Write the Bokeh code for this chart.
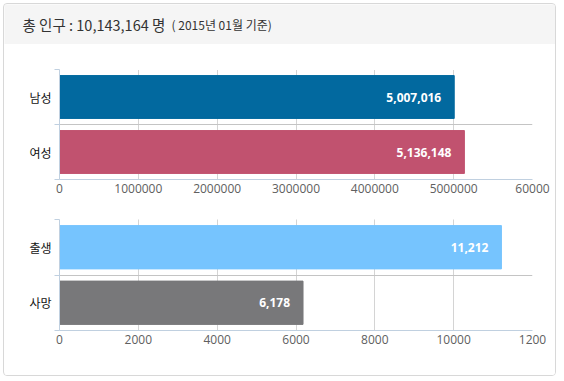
from bokeh.plotting import figure
from bokeh.layouts import column
from bokeh.models import FixedTicker, Range1d, Label, ColumnDataSource
from bokeh.embed import file_html
from bokeh.resources import INLINE
from bokeh.core.properties import value

# ---- data ----
title_main = "총 인구 : 10,143,164 명"
title_sub = "( 2015년 01월 기준)"

pop_cats = ["남성", "여성"]
pop_vals = [5007016, 5136148]
pop_colors = ["#02699f", "#c1526f"]
pop_ticks = [0, 1000000, 2000000, 3000000, 4000000, 5000000, 6000000]
pop_tick_labels = ["0", "1000000", "2000000", "3000000", "4000000", "5000000", "60000"]

vit_cats = ["출생", "사망"]
vit_vals = [11212, 6178]
vit_colors = ["#76c4fe", "#78787a"]
vit_ticks = [0, 2000, 4000, 6000, 8000, 10000, 12000]
vit_tick_labels = ["0", "2000", "4000", "6000", "8000", "10000", "1200"]

W = 551
LEFT = 55
KR = "Noto Sans CJK KR"
NUM = "Open Sans"


def bar_fig(cats, vals, colors, ticks, tick_labels, height, top, bottom):
    n = len(cats)
    ypos = [n - i - 0.5 for i in range(n)]
    src = ColumnDataSource(dict(y=ypos, v=vals, c=colors,
                                lab=[f"{v:,}" for v in vals], cat=cats))
    p = figure(width=W, height=height, output_backend="svg", toolbar_location=None,
               x_range=Range1d(ticks[0], ticks[-1]), y_range=Range1d(0, n),
               min_border_left=LEFT, min_border_right=23,
               min_border_top=top, min_border_bottom=bottom)
    p.outline_line_color = None
    p.background_fill_color = "white"
    p.border_fill_color = "white"
    p.hbar(y="y", right="v", left=0, height=0.78, color="c", source=src)
    p.text(x="v", y="y", text="lab", source=src, x_offset=-13,
           text_align="right", text_baseline="middle", text_color="white",
           text_font=value(NUM), text_font_size="12px", text_font_style="bold")
    # x axis
    xa = p.xaxis[0]
    xa.ticker = FixedTicker(ticks=ticks)
    xa.major_label_overrides = {t: l for t, l in zip(ticks, tick_labels)}
    xa.axis_line_color = "#c0d0e0"
    xa.major_tick_out = 0
    xa.major_tick_in = 0
    xa.minor_tick_out = 0
    xa.minor_tick_in = 0
    xa.major_label_standoff = 4
    xa.major_label_text_font = NUM
    xa.major_label_text_font_size = "12px"
    xa.major_label_text_color = "#606060"
    # y axis
    ya = p.yaxis[0]
    ya.ticker = FixedTicker(ticks=ypos, minor_ticks=list(range(n + 1)))
    ya.major_label_overrides = {y: c for y, c in zip(ypos, cats)}
    ya.axis_line_color = "#c0d0e0"
    ya.major_tick_out = 0
    ya.major_tick_in = 0
    ya.minor_tick_out = 5
    ya.minor_tick_in = 0
    ya.minor_tick_line_color = "#c0d0e0"
    ya.major_label_standoff = 3
    ya.major_label_text_font = KR
    ya.major_label_text_font_size = "12px"
    ya.major_label_text_color = "#111111"
    # grids
    p.xgrid[0].ticker = FixedTicker(ticks=ticks[1:])
    p.xgrid[0].grid_line_color = "#a8a8a8"
    p.xgrid[0].grid_line_dash = "1 1"
    p.ygrid[0].ticker = FixedTicker(ticks=list(range(1, n + 1)))
    p.ygrid[0].grid_line_color = "#c4c4c4"
    return p


header = figure(width=W, height=40, output_backend="svg", toolbar_location=None,
                x_range=Range1d(0, W), y_range=Range1d(0, 40),
                x_axis_location=None, y_axis_location=None, min_border=0)
header.frame_align = False
header.grid.visible = False
header.outline_line_color = None
header.background_fill_color = "#f5f5f5"
header.border_fill_color = "#f5f5f5"
header.add_layout(Label(x=18, y=20, x_units="screen", y_units="screen", text=title_main,
                        text_font=KR, text_font_size="14.5px", text_color="#333333",
                        text_baseline="middle"))
header.add_layout(Label(x=167, y=20, x_units="screen", y_units="screen", text=title_sub,
                        text_font=KR, text_font_size="12px", text_color="#333333",
                        text_baseline="middle"))
sep = figure(width=W, height=1, output_backend="svg", toolbar_location=None,
             x_axis_location=None, y_axis_location=None, min_border=0)
sep.grid.visible = False
sep.outline_line_color = None
sep.background_fill_color = "#dddddd"
sep.border_fill_color = "#dddddd"

f1 = bar_fig(pop_cats, pop_vals, pop_colors, pop_ticks, pop_tick_labels, 155, 24, 21)
f2 = bar_fig(vit_cats, vit_vals, vit_colors, vit_ticks, vit_tick_labels, 175, 19, 45)

layout = column(header, sep, f1, f2, spacing=0,
                styles={"border": "1px solid #d8d8d8", "border-radius": "4px",
                        "margin-left": "3px", "margin-top": "3px",
                        "overflow": "hidden", "background": "white"})

open("out.html", "w").write(file_html(layout, INLINE))
